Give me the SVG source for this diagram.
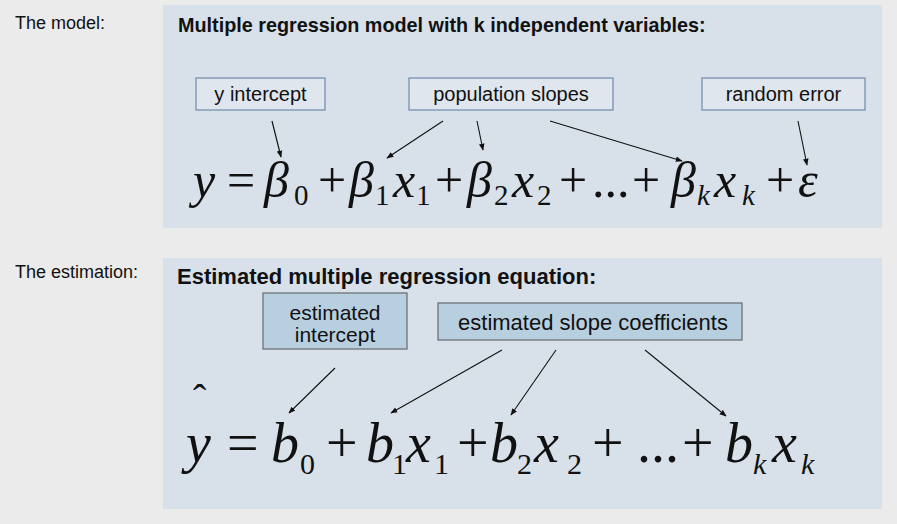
<svg xmlns="http://www.w3.org/2000/svg" width="897" height="524" viewBox="0 0 897 524">
<style>
.bg{fill:#ebebeb}
.panel{fill:#d8e1ea}
.lbl{font-family:"Liberation Sans",Arial,sans-serif;font-size:18px;fill:#111}
.ttl{font-family:"Liberation Sans",Arial,sans-serif;font-weight:bold;fill:#111}
.box1{fill:#dfe6ee;stroke:#7791b0;stroke-width:1.3}
.box2{fill:#b8cfe0;stroke:#6e7276;stroke-width:1.3}
.bt{font-family:"Liberation Sans",Arial,sans-serif;fill:#111;text-anchor:middle}
.eq{font-family:"Liberation Serif","Times New Roman",serif;fill:#111}
.it{font-style:italic}
.con line{stroke:#111;stroke-width:1.1;marker-end:url(#ah)}
</style>
<defs>
<marker id="ah" viewBox="0 0 10 10" refX="9" refY="5" markerWidth="7" markerHeight="7" markerUnits="userSpaceOnUse" orient="auto">
<path d="M0,1 L10,5 L0,9 z" fill="#111"/>
</marker>
</defs>
<rect class="bg" x="0" y="0" width="897" height="524"/>
<text class="lbl" x="15" y="29">The model:</text>
<text class="lbl" x="15" y="278">The estimation:</text>

<g id="panel-model">
<rect class="panel" x="163" y="5" width="719" height="223"/>
<text class="ttl" x="178" y="32" font-size="19.8">Multiple regression model with k independent variables:</text>
</g>
<g id="panel-estimation">
<rect class="panel" x="163" y="258" width="719" height="251"/>
<text class="ttl" x="177" y="284" font-size="22">Estimated multiple regression equation:</text>
</g>

<g id="node-y-intercept">
<rect class="box1" x="196" y="78" width="129" height="32"/>
<text class="bt" x="260.5" y="101" font-size="20">y intercept</text>
</g>
<g id="node-population-slopes">
<rect class="box1" x="409" y="78" width="204" height="32"/>
<text class="bt" x="511" y="101" font-size="20">population slopes</text>
</g>
<g id="node-random-error">
<rect class="box1" x="702" y="78" width="163" height="32"/>
<text class="bt" x="783.5" y="101" font-size="20">random error</text>
</g>

<g id="node-equation-model" class="eq" font-size="50">
<text class="it" x="193" y="197">y</text>
<text x="227" y="197">=</text>
<text class="it" x="264" y="197">β</text>
<text x="294" y="205" font-size="29">0</text>
<text x="318" y="197">+</text>
<text class="it" x="349" y="197">β</text>
<text x="375" y="205" font-size="29">1</text>
<text class="it" x="393" y="197">x</text>
<text x="416" y="205" font-size="29">1</text>
<text x="435" y="197">+</text>
<text class="it" x="467" y="197">β</text>
<text x="494" y="205" font-size="29">2</text>
<text class="it" x="512" y="197">x</text>
<text x="537" y="205" font-size="29">2</text>
<text x="559" y="197">+</text>
<text x="592" y="197">...</text>
<text x="632" y="197">+</text>
<text class="it" x="671" y="197">β</text>
<text class="it" x="697" y="205" font-size="29">k</text>
<text class="it" x="714" y="197">x</text>
<text class="it" x="742" y="205" font-size="29">k</text>
<text x="766" y="197">+</text>
<text class="it" x="798" y="197">ε</text>
</g>

<g id="node-estimated-intercept">
<rect class="box2" x="263" y="293" width="144" height="56"/>
<text class="bt" x="335" y="320" font-size="21">estimated</text>
<text class="bt" x="335" y="342" font-size="21">intercept</text>
</g>
<g id="node-estimated-slopes">
<rect class="box2" x="438" y="303" width="304" height="37"/>
<text class="bt" x="593" y="330" font-size="22">estimated slope coefficients</text>
</g>

<g id="node-equation-estimation" class="eq" font-size="56">
<text class="it" x="186" y="462">y</text>
<text x="193" y="412" font-size="40">ˆ</text>
<text x="227" y="462">=</text>
<text class="it" x="271" y="462">b</text>
<text x="300" y="474" font-size="30">0</text>
<text x="326" y="462">+</text>
<text class="it" x="366" y="462">b</text>
<text x="392" y="474" font-size="30">1</text>
<text class="it" x="406" y="462">x</text>
<text x="434" y="474" font-size="30">1</text>
<text x="457" y="462">+</text>
<text class="it" x="490" y="462">b</text>
<text x="517" y="474" font-size="30">2</text>
<text class="it" x="534" y="462">x</text>
<text x="567" y="474" font-size="30">2</text>
<text x="592" y="462">+</text>
<text x="637" y="462">...</text>
<text x="682" y="462">+</text>
<text class="it" x="725" y="462">b</text>
<text class="it" x="753" y="474" font-size="30">k</text>
<text class="it" x="772" y="462">x</text>
<text class="it" x="801" y="474" font-size="30">k</text>
</g>

<g id="connectors" class="con">
<line x1="272" y1="121" x2="281" y2="157"/>
<line x1="443" y1="121" x2="387" y2="158"/>
<line x1="477" y1="121" x2="483" y2="150"/>
<line x1="550" y1="121" x2="682" y2="161"/>
<line x1="798" y1="121" x2="807" y2="165"/>
<line x1="335" y1="368" x2="289" y2="413"/>
<line x1="502" y1="350" x2="391" y2="413"/>
<line x1="556" y1="350" x2="511" y2="415"/>
<line x1="645" y1="350" x2="726" y2="416"/>
</g>
</svg>
